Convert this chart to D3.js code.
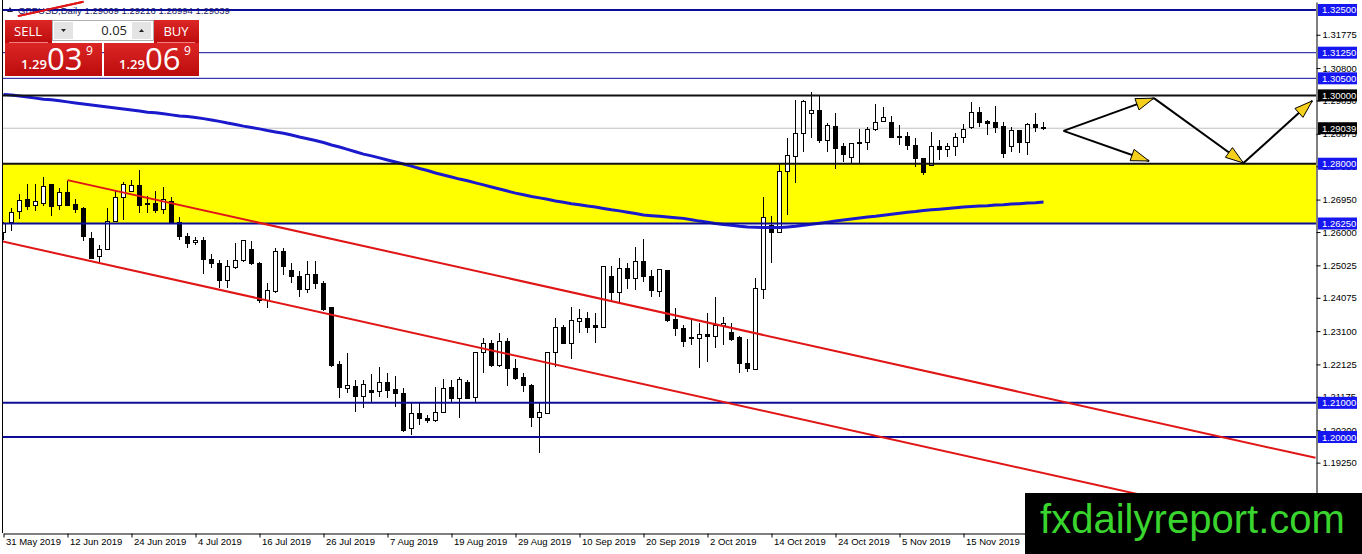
<!DOCTYPE html>
<html>
<head>
<meta charset="utf-8">
<script src="https://cdn.jsdelivr.net/npm/d3@7"></script>
<style>
body { margin: 0; background: #fff; }
svg { display: block; font-family: "Liberation Sans", Arial, sans-serif; }
</style>
</head>
<body>
<svg id="chart" width="1362" height="554"></svg>
<script>
// GBPUSD daily, 31 May 2019 .. 29 Nov 2019 (one entry per bar)
const opens = [1.2600,1.2627,1.2659,1.2694,1.2679,1.2685,1.2738,1.2679,1.2717,1.2682,
  1.2668,1.2580,1.2527,1.2550,1.2632,1.2700,1.2720,1.2735,1.2685,1.2685,
  1.2665,1.2688,1.2629,1.2586,1.2568,1.2574,1.2521,1.2509,1.2457,1.2495,
  1.2518,1.2550,1.2509,1.2401,1.2425,1.2542,1.2486,1.2469,1.2433,1.2477,
  1.2448,1.2378,1.2211,1.2141,1.2149,1.2120,1.2135,1.2132,1.2161,1.2138,
  1.2126,1.2024,1.2068,1.2053,1.2047,1.2073,1.2144,1.2114,1.2161,1.2117,
  1.2246,1.2273,1.2208,1.2281,1.2202,1.2173,1.2152,1.2056,1.2070,1.2246,
  1.2322,1.2275,1.2337,1.2346,1.2325,1.2322,1.2471,1.2422,1.2492,1.2463,
  1.2515,1.2469,1.2425,1.2486,1.2343,1.2319,1.2290,1.2287,1.2299,1.2293,
  1.2325,1.2305,1.2290,1.2214,1.2199,1.2433,1.2618,1.2600,1.2776,1.2820,
  1.2887,1.2946,1.2957,1.2867,1.2910,1.2849,1.2817,1.2861,1.2861,1.2899,
  1.2925,1.2922,1.2881,1.2881,1.2852,1.2814,1.2796,1.2849,1.2843,1.2849,
  1.2878,1.2905,1.2951,1.2925,1.2922,1.2908,1.2849,1.2896,1.2861,1.2916,
  1.29069]
const highs = [1.2629,1.2670,1.2711,1.2741,1.2741,1.2761,1.2740,1.2729,1.2750,1.2697,
  1.2673,1.2600,1.2562,1.2670,1.2720,1.2747,1.2752,1.2782,1.2706,1.2720,
  1.2732,1.2703,1.2644,1.2597,1.2586,1.2586,1.2536,1.2518,1.2518,1.2568,
  1.2576,1.2574,1.2512,1.2451,1.2553,1.2553,1.2509,1.2486,1.2515,1.2515,
  1.2457,1.2380,1.2223,1.2246,1.2167,1.2167,1.2185,1.2205,1.2188,1.2179,
  1.2144,1.2100,1.2100,1.2065,1.2147,1.2170,1.2167,1.2176,1.2167,1.2249,
  1.2290,1.2284,1.2305,1.2290,1.2229,1.2188,1.2154,1.2100,1.2249,1.2348,
  1.2328,1.2380,1.2375,1.2366,1.2363,1.2501,1.2501,1.2524,1.2509,1.2556,
  1.2580,1.2489,1.2492,1.2489,1.2378,1.2328,1.2343,1.2334,1.2363,1.2410,
  1.2351,1.2334,1.2296,1.2287,1.2466,1.2703,1.2647,1.2799,1.2875,1.2987,
  1.2987,1.3010,1.2998,1.2919,1.2949,1.2861,1.2861,1.2902,1.2908,1.2975,
  1.2966,1.2940,1.2913,1.2893,1.2875,1.2817,1.2893,1.2870,1.2861,1.2890,
  1.2916,1.2981,1.2966,1.2928,1.2969,1.2922,1.2908,1.2899,1.2919,1.2949,
  1.29216]
const lows = [1.2577,1.2603,1.2638,1.2665,1.2662,1.2676,1.2647,1.2665,1.2676,1.2656,
  1.2574,1.2521,1.2507,1.2547,1.2629,1.2635,1.2717,1.2656,1.2656,1.2656,
  1.2653,1.2627,1.2577,1.2553,1.2562,1.2477,1.2495,1.2436,1.2436,1.2492,
  1.2512,1.2504,1.2392,1.2378,1.2422,1.2474,1.2451,1.2410,1.2422,1.2433,
  1.2369,1.2205,1.2114,1.2129,1.2073,1.2085,1.2100,1.2117,1.2114,1.2088,
  1.2015,1.2006,1.2035,1.2041,1.2044,1.2070,1.2100,1.2056,1.2111,1.2100,
  1.2188,1.2205,1.2205,1.2149,1.2167,1.2132,1.2029,1.1954,1.2067,1.2205,
  1.2272,1.2229,1.2305,1.2305,1.2275,1.2320,1.2395,1.2389,1.2433,1.2431,
  1.2454,1.2410,1.2410,1.2337,1.2296,1.2264,1.2270,1.2202,1.2220,1.2261,
  1.2270,1.2281,1.2188,1.2190,1.2197,1.2404,1.2509,1.2598,1.2650,1.2744,
  1.2834,1.2875,1.2861,1.2834,1.2785,1.2805,1.2802,1.2802,1.2840,1.2897,
  1.2922,1.2875,1.2855,1.2840,1.2790,1.2767,1.2793,1.2811,1.2820,1.2823,
  1.2861,1.2902,1.2908,1.2884,1.2890,1.2817,1.2834,1.2831,1.2826,1.2893,
  1.28994]
const closes = [1.2624,1.2656,1.2691,1.2676,1.2688,1.2732,1.2676,1.2717,1.2679,1.2665,
  1.2586,1.2524,1.2550,1.2632,1.2700,1.2738,1.2735,1.2679,1.2682,1.2662,
  1.2694,1.2629,1.2588,1.2565,1.2574,1.2521,1.2509,1.2457,1.2498,1.2518,
  1.2574,1.2509,1.2401,1.2428,1.2542,1.2498,1.2469,1.2433,1.2477,1.2448,
  1.2372,1.2208,1.2144,1.2152,1.2120,1.2155,1.2129,1.2161,1.2135,1.2126,
  1.2018,1.2068,1.2053,1.2047,1.2073,1.2141,1.2114,1.2167,1.2114,1.2246,
  1.2275,1.2208,1.2281,1.2202,1.2170,1.2152,1.2056,1.2073,1.2246,1.2322,
  1.2275,1.2340,1.2346,1.2322,1.2322,1.2498,1.2422,1.2492,1.2463,1.2515,
  1.2469,1.2428,1.2489,1.2340,1.2319,1.2281,1.2287,1.2299,1.2293,1.2325,
  1.2331,1.2284,1.2214,1.2202,1.2436,1.2644,1.2600,1.2776,1.2823,1.2887,
  1.2981,1.2957,1.2867,1.2913,1.2846,1.2826,1.2858,1.2858,1.2899,1.2922,
  1.2934,1.2878,1.2878,1.2852,1.2814,1.2773,1.2849,1.2843,1.2849,1.2878,
  1.2899,1.2951,1.2922,1.2919,1.2905,1.2831,1.2896,1.2861,1.2916,1.2905,
  1.29039]
// moving average
const movingAvg = [1.3003,1.3001,1.2998,1.2995,1.2992,1.2989,1.2987,1.2984,1.2981,1.2978,
  1.2975,1.2972,1.2969,1.2966,1.2963,1.2960,1.2957,1.2954,1.2951,1.2949,
  1.2946,1.2943,1.2940,1.2938,1.2935,1.2932,1.2928,1.2924,1.2919,1.2915,
  1.2910,1.2906,1.2902,1.2897,1.2893,1.2889,1.2884,1.2878,1.2873,1.2868,
  1.2862,1.2855,1.2849,1.2842,1.2835,1.2828,1.2823,1.2817,1.2811,1.2805,
  1.2799,1.2793,1.2786,1.2780,1.2773,1.2767,1.2761,1.2755,1.2750,1.2744,
  1.2738,1.2732,1.2726,1.2720,1.2714,1.2709,1.2704,1.2700,1.2696,1.2691,
  1.2687,1.2683,1.2680,1.2676,1.2673,1.2669,1.2665,1.2662,1.2658,1.2654,
  1.2650,1.2648,1.2646,1.2644,1.2642,1.2640,1.2636,1.2632,1.2629,1.2625,
  1.2622,1.2620,1.2617,1.2615,1.2614,1.2613,1.2613,1.2613,1.2615,1.2617,
  1.2620,1.2623,1.2626,1.2629,1.2632,1.2635,1.2638,1.2641,1.2644,1.2646,
  1.2649,1.2652,1.2655,1.2658,1.2660,1.2663,1.2665,1.2667,1.2669,1.2671,
  1.2673,1.2675,1.2676,1.2677,1.2679,1.2680,1.2682,1.2683,1.2685,1.2686,
  1.2688]

const dateTickBars = [0,8,16,24,32,40,48,56,64,72,80,88,96,104,112,120]
const dateLabels = ["31 May 2019","12 Jun 2019","24 Jun 2019","4 Jul 2019","16 Jul 2019",
  "26 Jul 2019","7 Aug 2019","19 Aug 2019","29 Aug 2019","10 Sep 2019","20 Sep 2019",
  "2 Oct 2019","14 Oct 2019","24 Oct 2019","5 Nov 2019","15 Nov 2019"]
const priceTicks = [1.31775,1.30800,1.29850,1.28875,1.27925,1.26950,1.26000,1.25025,
  1.24075,1.23100,1.22125,1.21175,1.20200,1.19250,1.18275]

// horizontal levels: price, kind
const levelPrices = [1.3250, 1.3125, 1.3050, 1.3000, 1.2800, 1.2625, 1.2100, 1.2000]
const levelKinds  = ["blue", "thin", "thin", "black", "black", "blue", "blue", "blue"]
const levelLabelBg = ["blue", "blue", "blue", "black", "blue", "blue", "blue", "blue"]
const zone = [1.2800, 1.2625]
const lastPrice = 1.29039
const header = ["GBPUSD,Daily", 1.29069, 1.29216, 1.28994, 1.29039]

// channel lines [bar, price] pairs
const channelUpper = [[8, 1.2752], [164, 1.1939]]
const channelLower = [[-1, 1.2577], [164, 1.1717]]
const smallRed = [[1.8, 1.3232], [10, 1.3274]]
// projection arrows [bar, price] -> [bar, price]
const arrows = [
  [[132.5, 1.2896], [143.8, 1.2992]],
  [[132.5, 1.2896], [143.2, 1.2808]],
  [[143.8, 1.2992], [155.0, 1.2802]],
  [[155.0, 1.2802], [163.6, 1.2984]]
]

const W = 1362, H = 554
const svg = d3.select("#chart")
const x = d3.scaleLinear().domain([0, 164]).range([3.5, 1315.5])
const y = d3.scaleLinear().domain([1.1719, 1.32734]).range([533, 2])

svg.append("rect").attr("width", W).attr("height", H).attr("fill", "#fff")
const defs = svg.append("defs")
defs.append("clipPath").attr("id", "plot")
  .append("rect").attr("x", 3).attr("y", 0).attr("width", 1313).attr("height", 533)

const plot = svg.append("g").attr("clip-path", "url(#plot)")

//zona amarilla
plot.append("rect")
  .attr("x", 3).attr("width", 1313)
  .attr("y", y(zone[0])).attr("height", y(zone[1]) - y(zone[0]))
  .attr("fill", "#ffff00")

plot.append("line")
  .attr("x1", 3).attr("x2", 1316)
  .attr("y1", y(lastPrice)).attr("y2", y(lastPrice))
  .attr("stroke", "#c0c0c0").attr("stroke-width", 1)

// velas
const bars = d3.range(closes.length)
const velas = plot.append("g").selectAll("g").data(bars).enter().append("g")
velas.append("line")
  .attr("x1", i => x(i)).attr("x2", i => x(i))
  .attr("y1", i => y(highs[i])).attr("y2", i => y(lows[i]))
  .attr("stroke", "#000").attr("shape-rendering", "crispEdges")
velas.append("rect")
  .attr("x", i => x(i) - 2).attr("width", 4)
  .attr("y", i => y(Math.max(opens[i], closes[i])))
  .attr("height", i => Math.max(0.5, Math.abs(y(opens[i]) - y(closes[i]))))
  .attr("fill", i => closes[i] >= opens[i] ? "#fff" : "#000")
  .attr("stroke", "#000").attr("shape-rendering", "crispEdges")

// media movil
plot.append("path")
  .datum(bars)
  .attr("d", d3.line().x(i => x(i)).y(i => y(movingAvg[i])))
  .attr("fill", "none").attr("stroke", "#1a1acc").attr("stroke-width", 3)

// niveles
const lineColor = {blue: "#0c0c96", thin: "#0c0c96", black: "#111"}
const lineWidth = {blue: 2, thin: 1, black: 2}
plot.selectAll("line.level").data(levelPrices).enter().append("line")
  .attr("class", "level")
  .attr("x1", 3).attr("x2", 1316)
  .attr("y1", d => y(d)).attr("y2", d => y(d))
  .attr("stroke", (d, i) => lineColor[levelKinds[i]])
  .attr("stroke-width", (d, i) => lineWidth[levelKinds[i]])

// canal rojo
const seg = d3.line().x(d => x(d[0])).y(d => y(d[1]))
;[channelUpper, channelLower, smallRed].forEach(c => {
  plot.append("path").attr("d", seg(c))
    .attr("fill", "none").attr("stroke", "#e01515").attr("stroke-width", 2)
})

// flechas
arrows.forEach(a => {
  const x1 = x(a[0][0]), y1 = y(a[0][1]), x2 = x(a[1][0]), y2 = y(a[1][1])
  plot.append("line").attr("x1", x1).attr("y1", y1).attr("x2", x2).attr("y2", y2)
    .attr("stroke", "#000").attr("stroke-width", 2)
  const ang = Math.atan2(y2 - y1, x2 - x1)
  const len = 18, half = 6
  const bx = x2 - len * Math.cos(ang), by = y2 - len * Math.sin(ang)
  const pts = [[x2, y2],
    [bx + half * Math.sin(ang), by - half * Math.cos(ang)],
    [bx - half * Math.sin(ang), by + half * Math.cos(ang)]]
  plot.append("polygon").attr("points", pts.map(p => p.join(",")).join(" "))
    .attr("fill", "#f4d01c").attr("stroke", "#000").attr("stroke-width", 1)
})

// bordes
svg.append("line").attr("x1", 2.5).attr("x2", 2.5).attr("y1", 0).attr("y2", 533)
  .attr("stroke", "#000")

// eje de precios
const ejeY = d3.axisRight(y).tickValues(priceTicks).tickSize(4).tickSizeOuter(0)
  .tickPadding(2).tickFormat(d3.format(".5f"))
const gy = svg.append("g").attr("transform", "translate(1316.5,0)").call(ejeY)
gy.select(".domain").attr("stroke", "#000")
gy.selectAll("text").attr("font-size", 9.5).attr("fill", "#000")
  .attr("font-family", "Liberation Sans, Arial, sans-serif")

// eje de fechas
const ejeX = d3.axisBottom(x).tickValues(dateTickBars).tickSize(4).tickSizeOuter(0)
  .tickFormat((d, i) => dateLabels[i])
const gx = svg.append("g").attr("transform", "translate(0,533.5)").call(ejeX)
gx.select(".domain").attr("stroke", "#000")
gx.selectAll("text").attr("text-anchor", "start").attr("x", 2).attr("y", 5)
  .attr("dy", "0.71em").attr("font-size", 9.5).attr("fill", "#000")
  .attr("font-family", "Liberation Sans, Arial, sans-serif")

// etiquetas de niveles
const labelFill = {blue: "#1616f2", black: "#000"}
const etiquetas = levelPrices.map((p, i) => [p, levelLabelBg[i]]).concat([[lastPrice, "black"]])
const lab = svg.selectAll("g.lab").data(etiquetas).enter().append("g").attr("class", "lab")
lab.append("rect").attr("x", 1318).attr("y", d => y(d[0]) - 6).attr("width", 39).attr("height", 12)
  .attr("fill", d => labelFill[d[1]])
lab.append("text").attr("x", 1322).attr("y", d => y(d[0]) + 3.5)
  .attr("font-size", 9.5).attr("fill", "#fff").text(d => d3.format(".5f")(d[0]))

// cabecera
svg.append("path").attr("d", "M7,12 L10,7 L13,12 Z").attr("fill", "#223")
svg.append("text").attr("x", 18).attr("y", 13.5).attr("font-size", 9.5).attr("fill", "#1a1a60")
  .text(header[0] + "  " + header.slice(1).map(d3.format(".5f")).join(" "))
svg.append("line").attr("x1", 3).attr("x2", 1316).attr("y1", y(levelPrices[0])).attr("y2", y(levelPrices[0]))
  .attr("stroke", "#0c0c96").attr("stroke-width", 2)
svg.append("path").attr("d", seg(smallRed)).attr("stroke", "#e01515").attr("stroke-width", 2)

// panel one-click
const grad = defs.append("linearGradient").attr("id", "rojo").attr("x1", 0).attr("x2", 0).attr("y1", 0).attr("y2", 1)
grad.append("stop").attr("offset", "0%").attr("stop-color", "#dc2626")
grad.append("stop").attr("offset", "100%").attr("stop-color", "#bc0b0b")
const panel = svg.append("g").attr("font-family", "Open Sans, Noto Sans, sans-serif")
panel.append("rect").attr("x", 5).attr("y", 20).attr("width", 47).attr("height", 24).attr("fill", "url(#rojo)")
panel.append("rect").attr("x", 154).attr("y", 20).attr("width", 45).attr("height", 24).attr("fill", "url(#rojo)")
panel.append("rect").attr("x", 5).attr("y", 43).attr("width", 97).attr("height", 33).attr("fill", "url(#rojo)")
panel.append("rect").attr("x", 104).attr("y", 43).attr("width", 95).attr("height", 33).attr("fill", "url(#rojo)")
panel.append("line").attr("x1", 9).attr("x2", 48).attr("y1", 42.5).attr("y2", 42.5).attr("stroke", "#f08080")
panel.append("line").attr("x1", 157).attr("x2", 195).attr("y1", 42.5).attr("y2", 42.5).attr("stroke", "#f08080")
panel.append("rect").attr("x", 52.5).attr("y", 20.5).attr("width", 101).attr("height", 20)
  .attr("fill", "#fff").attr("stroke", "#b0b0b0")
panel.append("rect").attr("x", 54).attr("y", 22).attr("width", 19).attr("height", 17).attr("fill", "#e4e4e4")
panel.append("rect").attr("x", 132).attr("y", 22).attr("width", 19).attr("height", 17).attr("fill", "#e4e4e4")
panel.append("path").attr("d", "M61,29 L66,29 L63.5,32 Z").attr("fill", "#222")
panel.append("path").attr("d", "M139,32 L144,32 L141.5,29 Z").attr("fill", "#222")
panel.append("text").attr("x", 127).attr("y", 35).attr("text-anchor", "end").attr("font-size", 13).attr("fill", "#222").text("0.05")
panel.append("text").attr("x", 28).attr("y", 36).attr("text-anchor", "middle").attr("font-size", 13).attr("fill", "#fff").text("SELL")
panel.append("text").attr("x", 176).attr("y", 36).attr("text-anchor", "middle").attr("font-size", 13).attr("fill", "#fff").text("BUY")
const precios = [[21, "1.29", "03", "9"], [119, "1.29", "06", "9"]]
precios.forEach(p => {
  panel.append("text").attr("x", p[0]).attr("y", 69).attr("font-size", 13).attr("font-weight", 600)
    .attr("fill", "#fff").text(p[1])
  panel.append("text").attr("x", p[0] + 26).attr("y", 69.5).attr("font-size", 31)
    .attr("fill", "#fff").text(p[2])
  panel.append("text").attr("x", p[0] + 65).attr("y", 55).attr("font-size", 12)
    .attr("fill", "#fff").text(p[3])
})

// marca de agua
svg.append("rect").attr("x", 1025).attr("y", 493).attr("width", 337).attr("height", 61).attr("fill", "#000")
svg.append("text").attr("x", 1040).attr("y", 533).attr("font-size", 40)
  .attr("textLength", 305).attr("lengthAdjust", "spacingAndGlyphs")
  .attr("fill", "#3ad42e").text("fxdailyreport.com")
</script>
</body>
</html>
